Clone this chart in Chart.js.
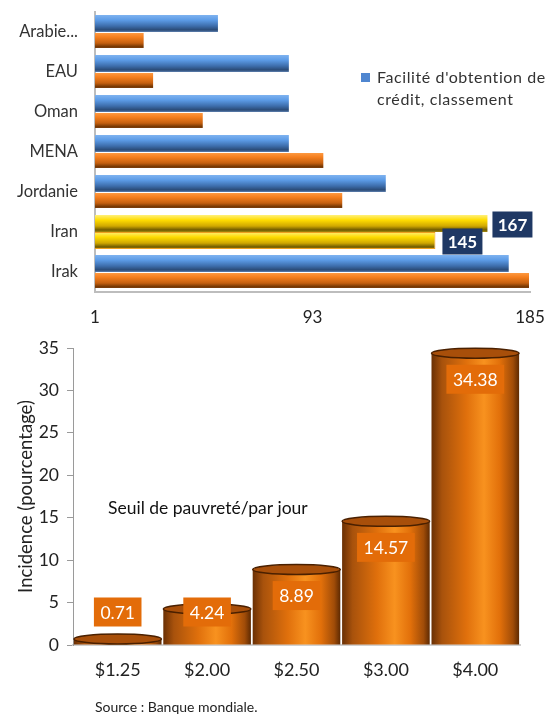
<!DOCTYPE html>
<html>
<head>
<meta charset="utf-8">
<script src="https://cdn.jsdelivr.net/npm/chart.js@4.4.1/dist/chart.umd.min.js"></script>
<style>
  body { margin: 0; background: #fff; font-family: Lato, sans-serif; }
  #wrap { position: relative; width: 550px; height: 715px; }
  #top { position: absolute; left: 0; top: 0; }
  #bottom { position: absolute; left: 0; top: 330px; }
  #source { position: absolute; left: 95px; top: 698px; font-size: 14px; color: #222; }
</style>
</head>
<body>
<div id="wrap">
  <canvas id="top" width="550" height="330"></canvas>
  <canvas id="bottom" width="550" height="370"></canvas>
  <div id="source">Source : Banque mondiale.</div>
</div>
<script>
// top chart data
const pays = ['Arabie...', 'EAU', 'Oman', 'MENA', 'Jordanie', 'Iran', 'Irak'];
const credit = [53, 83, 83, 83, 124, 167, 176];
const autre = [22, 26, 47, 98, 106, 145, 185];
const topTicks = [1, 93, 185];
const legendLines = ["Facilité d'obtention de", 'crédit, classement'];

// bottom chart data
const seuils = ['$1.25', '$2.00', '$2.50', '$3.00', '$4.00'];
const incidence = [0.71, 4.24, 8.89, 14.57, 34.38];
const yTicks = [0, 5, 10, 15, 20, 25, 30, 35];

Chart.defaults.font.family = 'Lato, sans-serif';
Chart.defaults.color = '#222';
Chart.defaults.animation = false;

const blueStops = [[0, '#7fb3f0'], [0.3, '#5c9be6'], [0.65, '#3d6dab'], [0.88, '#2a4a76'], [1, '#5f82b0']];
const orangeStops = [[0, '#ffa04a'], [0.3, '#f57f1e'], [0.65, '#c5600f'], [0.88, '#6e3402'], [1, '#9a5220']];
const yellowStops = [[0, '#fff07a'], [0.3, '#ffdc00'], [0.65, '#d0a800'], [0.88, '#6e5a00'], [1, '#a88c10']];

function hGrad(ctx) {
  const chart = ctx.chart;
  const ys = chart.scales.y;
  if (!ys || ctx.type !== 'data' || !chart.chartArea) return '#5c9be6';
  const center = ys.getPixelForValue(ctx.dataIndex);
  const th = ys.height / pays.length * 0.85 / 2;
  if (!isFinite(center) || !isFinite(th) || th <= 0) return '#5c9be6';
  const y0 = ctx.datasetIndex === 0 ? center - th : center;
  let stops = ctx.datasetIndex === 0 ? blueStops : orangeStops;
  if (pays[ctx.dataIndex] === 'Iran') stops = yellowStops;
  const g = chart.ctx.createLinearGradient(0, y0, 0, y0 + th);
  stops.forEach(s => g.addColorStop(s[0], s[1]));
  return g;
}

const topPlugin = {
  id: 'topExtras',
  afterDraw(chart) {
    const c = chart.ctx;
    // legend (only first series)
    c.save();
    c.fillStyle = '#4f86d0';
    c.fillRect(361, 73, 9, 9);
    c.fillStyle = '#333';
    c.font = '16px Lato, sans-serif';
    c.letterSpacing = '0.6px';
    c.textBaseline = 'middle';
    c.fillText(legendLines[0], 377, 78);
    c.fillText(legendLines[1], 377, 100);
    c.letterSpacing = '0px';
    // Iran value boxes
    const idx = pays.indexOf('Iran');
    c.font = 'bold 17px Lato, sans-serif';
    c.textAlign = 'center';
    chart.data.datasets.forEach((ds, di) => {
      const el = chart.getDatasetMeta(di).data[idx];
      const txt = String(ds.data[idx]);
      const w = 40, h = 26;
      const x0 = el.x + (di === 0 ? 5 : 7);
      const yc = el.y + 1;
      c.fillStyle = '#1f3864';
      c.fillRect(x0, yc - h / 2, w, h);
      c.fillStyle = '#fff';
      c.fillText(txt, x0 + w / 2, yc + 1);
    });
    c.restore();
  }
};

new Chart(document.getElementById('top'), {
  type: 'bar',
  data: {
    labels: pays,
    datasets: [
      { label: legendLines.join(' '), data: credit, backgroundColor: hGrad, categoryPercentage: 0.85, barPercentage: 1 },
      { label: 'autre', data: autre, backgroundColor: hGrad, categoryPercentage: 0.85, barPercentage: 1,
        borderColor: pays.map(p => p === 'Iran' ? '#f0a020' : 'rgba(0,0,0,0)'), borderWidth: 1 }
    ]
  },
  options: {
    indexAxis: 'y',
    responsive: false,
    layout: { padding: { left: 0, right: 20, top: 12, bottom: 0 } },
    plugins: { legend: { display: false }, tooltip: { enabled: false } },
    scales: {
      x: {
        min: 1, max: 185,
        afterBuildTicks: (s) => { s.ticks = topTicks.map(v => ({ value: v })); },
        afterFit: (s) => { s.height = 38; s.paddingLeft = 0; s.paddingRight = 0; },
        grid: { display: false, drawTicks: false },
        border: { display: true, color: '#bdbdbd', width: 2 },
        ticks: { font: { size: 17 }, padding: 15, color: '#222', maxRotation: 0 }
      },
      y: {
        afterFit: (s) => { s.width = 95; s.paddingTop = 0; s.paddingBottom = 0; },
        grid: { display: false, drawTicks: false },
        border: { display: true, color: '#bdbdbd', width: 2 },
        ticks: { font: { size: 16.5 }, padding: 17, color: '#333' }
      }
    }
  },
  plugins: [topPlugin]
});

// bottom chart
function vGrad(ctx) {
  const chart = ctx.chart;
  const xs = chart.scales.x;
  if (!xs || ctx.type !== 'data' || !chart.chartArea) return '#e8760c';
  const center = xs.getPixelForValue(ctx.dataIndex);
  const hw = xs.width / seuils.length * 0.98 / 2;
  if (!isFinite(center) || !isFinite(hw) || hw <= 0) return '#e8760c';
  const g = chart.ctx.createLinearGradient(center - hw, 0, center + hw, 0);
  g.addColorStop(0, '#6a3004');
  g.addColorStop(0.12, '#a8520c');
  g.addColorStop(0.4, '#e0700c');
  g.addColorStop(0.6, '#f8921f');
  g.addColorStop(0.78, '#e2700a');
  g.addColorStop(0.93, '#a04c08');
  g.addColorStop(1, '#5e2a02');
  return g;
}

const bottomPlugin = {
  id: 'bottomExtras',
  afterDatasetsDraw(chart) {
    const c = chart.ctx;
    const meta = chart.getDatasetMeta(0);
    const base = chart.scales.y.getPixelForValue(0);
    c.save();
    meta.data.forEach((el, i) => {
      // cylinder top
      c.beginPath();
      c.ellipse(el.x, el.y, el.width / 2, 5, 0, 0, Math.PI * 2);
      c.fillStyle = '#a84f0a';
      c.fill();
      c.lineWidth = 1.5;
      c.strokeStyle = '#4a2000';
      c.stroke();
      // label box
      const txt = incidence[i].toFixed(2);
      c.font = '17.5px Lato, sans-serif';
      const w = c.measureText(txt).width + 13, h = 29;
      const yc = Math.min(el.y + 26, base - 33);
      c.fillStyle = '#e36c09';
      c.fillRect(el.x - w / 2, yc - h / 2, w, h);
      c.fillStyle = '#fff';
      c.textAlign = 'center';
      c.textBaseline = 'middle';
      c.fillText(txt, el.x, yc + 1);
    });
    // annotation
    c.fillStyle = '#111';
    c.font = '17.5px Lato, sans-serif';
    c.textAlign = 'left';
    c.textBaseline = 'middle';
    c.fillText('Seuil de pauvreté/par jour', chart.chartArea.left + 35, chart.scales.y.getPixelForValue(16.1));
    c.restore();
  }
};

new Chart(document.getElementById('bottom'), {
  type: 'bar',
  data: {
    labels: seuils,
    datasets: [{ label: 'Incidence', data: incidence, backgroundColor: vGrad, categoryPercentage: 1, barPercentage: 0.98 }]
  },
  options: {
    responsive: false,
    layout: { padding: { left: 0, right: 30, top: 18, bottom: 0 } },
    plugins: { legend: { display: false }, tooltip: { enabled: false } },
    scales: {
      x: {
        afterFit: (s) => { s.height = 55; s.paddingLeft = 0; s.paddingRight = 0; },
        grid: { display: false, drawTicks: false },
        border: { display: true, color: '#d0d0d0', width: 2 },
        ticks: { font: { size: 18 }, padding: 14, color: '#222' }
      },
      y: {
        min: 0, max: 35,
        afterBuildTicks: (s) => { s.ticks = yTicks.map(v => ({ value: v })); },
        afterFit: (s) => { s.width = 73; s.paddingTop = 0; s.paddingBottom = 0; },
        grid: { display: true, drawOnChartArea: false, drawTicks: true, tickLength: 6, color: '#9a9a9a' },
        border: { display: true, color: '#9a9a9a', width: 1 },
        ticks: { font: { size: 17.5 }, padding: 8, color: '#222' },
        title: { display: true, text: 'Incidence (pourcentage)', font: { size: 18.5 }, color: '#222', padding: { top: 15, bottom: 0 } }
      }
    }
  },
  plugins: [bottomPlugin]
});
</script>
</body>
</html>
